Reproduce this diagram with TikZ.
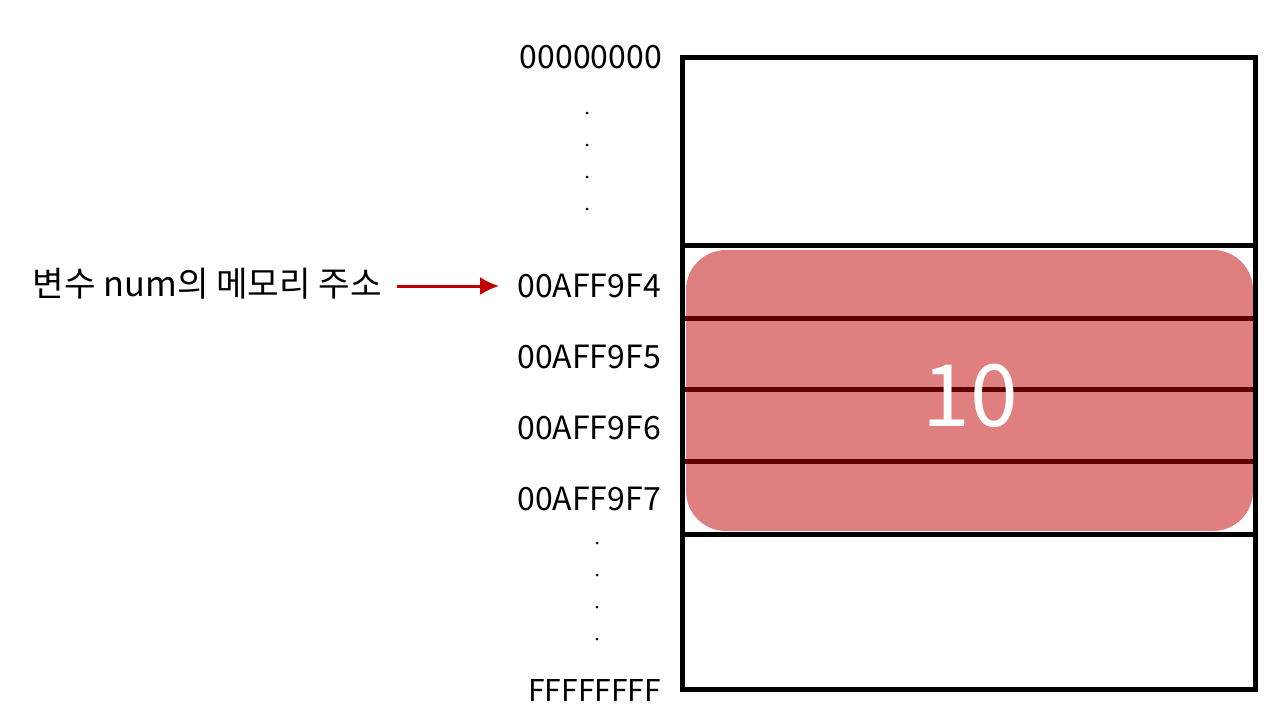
\documentclass[tikz,border=0pt]{standalone}
\usepackage{fontspec}
\setmainfont{Noto Sans CJK KR}
\usepackage{xcolor}
\usetikzlibrary{arrows.meta,positioning,calc}

\definecolor{cellred}{HTML}{DF7F7F}
\definecolor{darkline}{HTML}{600000}
\definecolor{arrowred}{HTML}{C00000}

\begin{document}
\begin{tikzpicture}[x=1pt,y=-1pt,>={Latex[length=19pt,width=18pt]},
  addr/.style={anchor=east, inner sep=0pt, font=\fontsize{32}{38}\selectfont},
  frame/.style={draw=black, line width=5pt},
  byteline/.style={draw=darkline, line width=5pt},
  gap/.style={circle, fill=black, inner sep=0pt, minimum size=3pt}]
  \useasboundingbox (0,0) rectangle (1280,720);
  % variable block
  \fill[cellred, rounded corners=40pt] (686,250) rectangle (1253,531);
  \foreach \y in {318,389,461} \draw[byteline] (684,\y) -- (1253,\y);
  \node[text=white, font=\fontsize{86}{92}\selectfont, inner sep=0pt] (val) at (970,396) {10};
  % memory frame
  \draw[frame] (682,57) rectangle (1255,689);
  \draw[frame] (682,245) -- (1255,245);
  \draw[frame] (682,534) -- (1255,534);
  % addresses
  \node[addr] (a0) at (662,57) {00000000};
  \node[addr] (a4) at (661,286) {00AFF9F4};
  \node[addr] (a5) at (661,357) {00AFF9F5};
  \node[addr] (a6) at (661,428) {00AFF9F6};
  \node[addr] (a7) at (661,499) {00AFF9F7};
  \node[addr, font=\fontsize{30}{36}\selectfont] (af) at (661,690) {FFFFFFFF};
  \foreach \y in {113,145,177,209} \node[gap] at (587,\y) {};
  \foreach \y in {543,575,607,639} \node[gap] at (597,\y) {};
  % pointer label
  \node[anchor=east, inner sep=0pt, font=\fontsize{34.3}{40}\selectfont] (var) at (382,284) {변수 num의 메모리 주소};
  \draw[->, arrowred, line width=3pt, shorten <=15pt, shorten >=18pt] (var.east |- a4.west) -- (a4.west);
\end{tikzpicture}
\end{document}
